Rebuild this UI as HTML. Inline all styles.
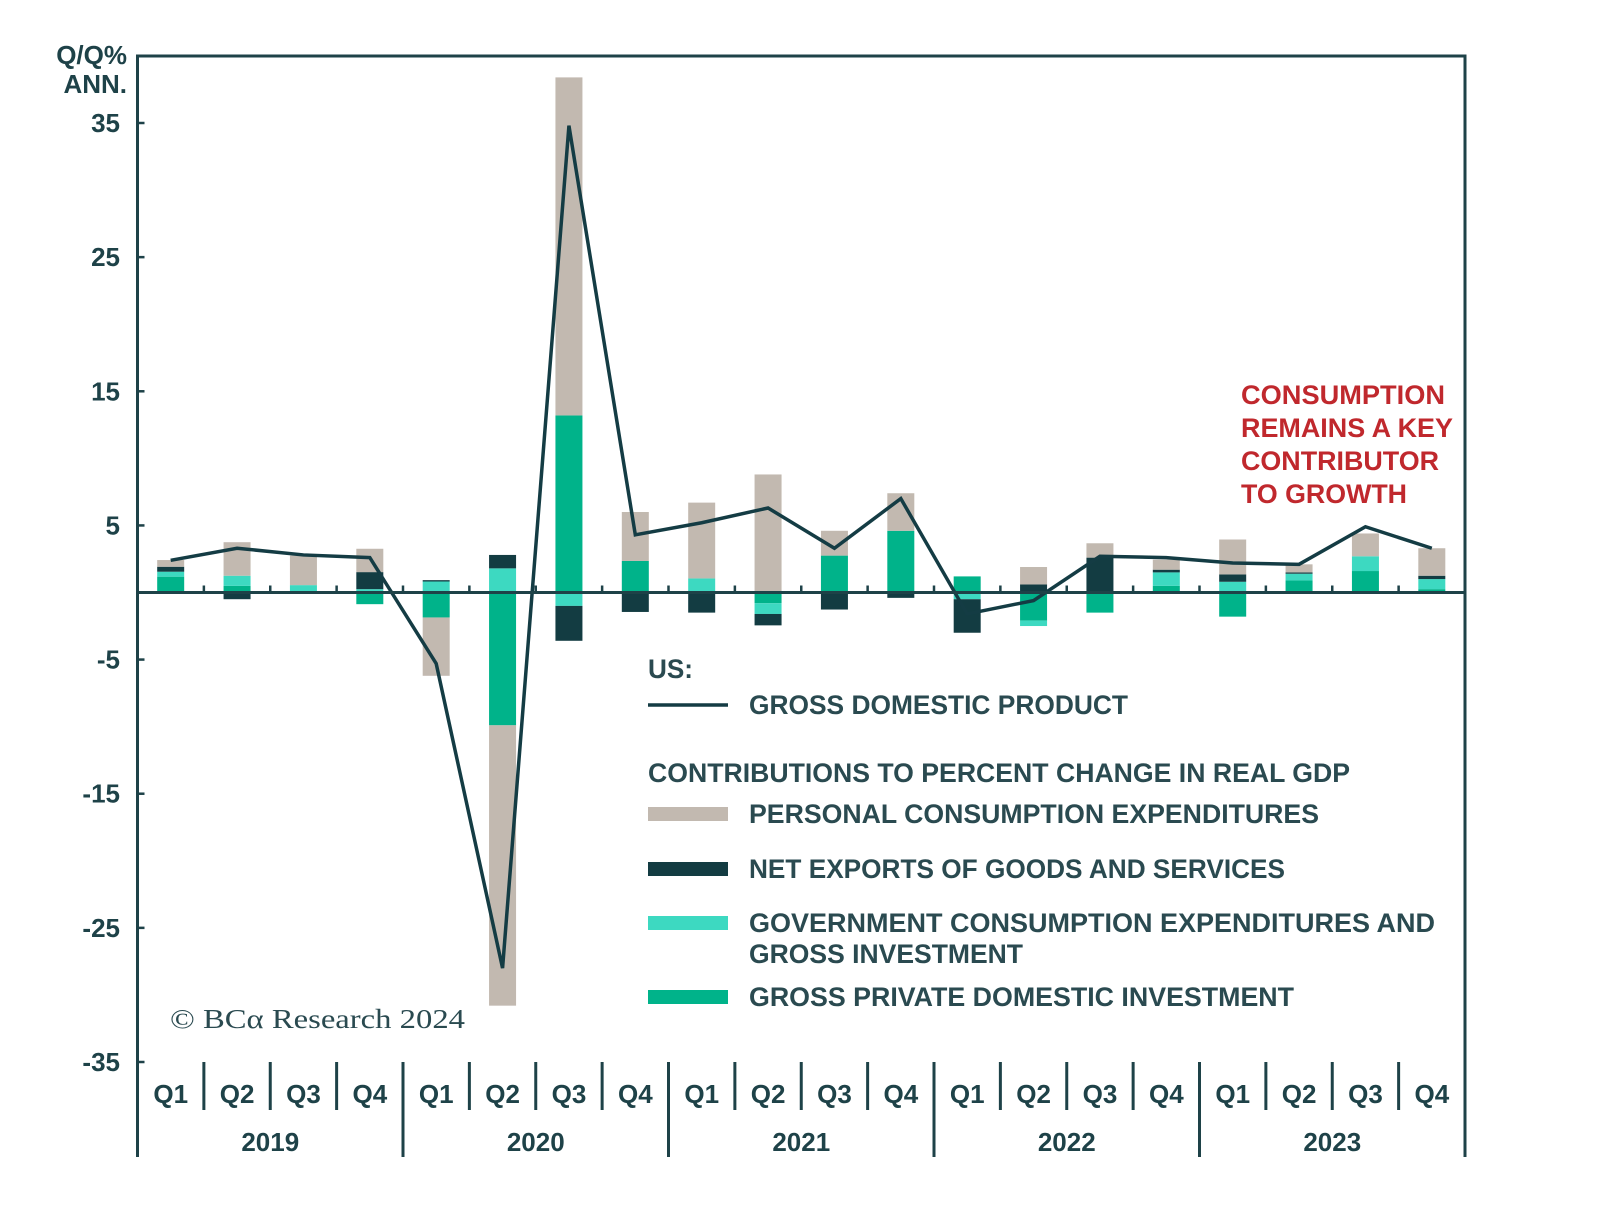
<!DOCTYPE html>
<html><head><meta charset="utf-8"><style>
html,body{margin:0;padding:0;background:#fff}
svg{display:block}
text{font-family:"Liberation Sans",sans-serif;font-weight:bold}
</style></head><body>
<svg id="chart" width="1600" height="1218" viewBox="0 0 1600 1218">
<g id="grid"></g>
<g id="bars"></g>
<g id="line"></g>
<g id="axes"></g>
<g fill="#2a4a50" font-size="27" transform="translate(-6,-6)">
<text x="654" y="684" textLength="45" lengthAdjust="spacingAndGlyphs">US:</text>
<line x1="654" y1="711" x2="734" y2="711" stroke="#143c44" stroke-width="3.5"/>
<text x="755" y="720" textLength="379" lengthAdjust="spacingAndGlyphs">GROSS DOMESTIC PRODUCT</text>
<text x="654" y="788" textLength="702" lengthAdjust="spacingAndGlyphs">CONTRIBUTIONS TO PERCENT CHANGE IN REAL GDP</text>
<rect x="654" y="813" width="80" height="14" fill="#c2b9b0"/>
<text x="755" y="829" textLength="570" lengthAdjust="spacingAndGlyphs">PERSONAL CONSUMPTION EXPENDITURES</text>
<rect x="654" y="868" width="80" height="14" fill="#133c42"/>
<text x="755" y="884" textLength="536" lengthAdjust="spacingAndGlyphs">NET EXPORTS OF GOODS AND SERVICES</text>
<rect x="654" y="922" width="80" height="14" fill="#3dd9c1"/>
<text x="755" y="938" textLength="686" lengthAdjust="spacingAndGlyphs">GOVERNMENT CONSUMPTION EXPENDITURES AND</text>
<text x="755" y="969" textLength="274" lengthAdjust="spacingAndGlyphs">GROSS INVESTMENT</text>
<rect x="654" y="996" width="80" height="14" fill="#00b38a"/>
<text x="755" y="1012" textLength="545" lengthAdjust="spacingAndGlyphs">GROSS PRIVATE DOMESTIC INVESTMENT</text>
</g>
<g fill="#c0282d" font-size="27" transform="translate(-12,-5)">
<text x="1253" y="409" textLength="204" lengthAdjust="spacingAndGlyphs">CONSUMPTION</text>
<text x="1253" y="442" textLength="212" lengthAdjust="spacingAndGlyphs">REMAINS A KEY</text>
<text x="1253" y="475" textLength="198" lengthAdjust="spacingAndGlyphs">CONTRIBUTOR</text>
<text x="1253" y="508" textLength="166" lengthAdjust="spacingAndGlyphs">TO GROWTH</text>
</g>
<text x="170" y="1028" font-size="27" fill="#2a4a50" style="font-family:'Liberation Serif',serif;font-weight:normal" textLength="295" lengthAdjust="spacingAndGlyphs">© BCα Research 2024</text>
</svg>
<script>
const categories=["Q1","Q2","Q3","Q4","Q1","Q2","Q3","Q4","Q1","Q2","Q3","Q4","Q1","Q2","Q3","Q4","Q1","Q2","Q3","Q4"];
const years=["2019","2020","2021","2022","2023"];
const pce=[0.5,2.5,2.2,1.74,-4.35,-20.9,25.2,3.65,5.65,8.8,1.85,2.8,0,1.3,1.07,0.75,2.6,0.6,1.7,2.05];
const netExports=[0.37,-0.5,0,1.27,0.1,1.0,-2.6,-1.45,-1.5,-0.85,-1.27,-0.4,-2.5,0.6,2.6,0.2,0.55,0.1,0,0.25];
const government=[0.37,0.75,0.45,0.25,0.82,1.8,-1.0,0,1.05,-0.8,0,0,-0.5,-0.4,0,1.0,0.8,0.5,1.1,0.75];
const investment=[1.18,0.5,0.1,-0.87,-1.86,-9.9,13.2,2.35,0,-0.8,2.75,4.6,1.2,-2.1,-1.5,0.5,-1.8,0.9,1.6,0.25];
const gdp=[2.4,3.3,2.8,2.6,-5.3,-28.0,34.8,4.3,5.2,6.3,3.3,7.0,-1.6,-0.6,2.7,2.6,2.2,2.1,4.9,3.3];
const yTicks=[35,25,15,5,-5,-15,-25,-35];

const NS="http://www.w3.org/2000/svg";
const L=137.5,R=1465,T=56,B=1062,YMAX=35,YMIN=-35;
const step=(R-L)/categories.length;
function y(v){return T+67+(YMAX-v)/(YMAX-YMIN)*(B-T-67);}
function xc(i){return L+step*(i+0.5);}
function mk(tag,attrs,parent){const e=document.createElementNS(NS,tag);for(const k in attrs)e.setAttribute(k,attrs[k]);parent.appendChild(e);return e;}
const bars=document.getElementById('bars'),axes=document.getElementById('axes'),lineG=document.getElementById('line');
const series=[[investment,'#00b38a','investment'],[government,'#3dd9c1','government'],[netExports,'#133c42','net-exports'],[pce,'#c2b9b0','pce']];
const bw=27;
for(let i=0;i<categories.length;i++){
  let pos=0,neg=0;
  for(const [arr,col,nm] of series){
    const v=arr[i]; if(!v)continue;
    let a,b;
    if(v>0){a=pos;b=pos+v;pos=b;}else{a=neg;b=neg+v;neg=b;}
    const r=mk('rect',{x:xc(i)-bw/2,y:Math.min(y(a),y(b)),width:bw,height:Math.abs(y(a)-y(b)),fill:col},bars);
    
    
  }
}
const fr=mk('path',{d:`M${L},${B} V${T} H${R} V${B}`,fill:'none',stroke:'#1e4248','stroke-width':3},axes);


const z=mk('line',{x1:L,x2:R,y1:y(0),y2:y(0),stroke:'#1e4248','stroke-width':3},axes);


for(let k=1;k<categories.length;k++){
  const t=mk('line',{x1:L+k*step,x2:L+k*step,y1:y(0),y2:y(0)-7,stroke:'#1e4248','stroke-width':2.5},axes);
  
  
}
for(const v of yTicks){
  const t=mk('line',{x1:L,x2:L+7,y1:y(v),y2:y(v),stroke:'#1e4248','stroke-width':2.5},axes);
  
  
  const tx=mk('text',{x:120,y:y(v)+9,'text-anchor':'end','font-size':26,fill:'#1e4248'},axes);
  tx.textContent=v;
  
  
}
const u1=mk('text',{x:127,y:64,'text-anchor':'end','font-size':26,fill:'#1e4248'},axes);u1.textContent='Q/Q%';


const u2=mk('text',{x:127,y:93,'text-anchor':'end','font-size':26,fill:'#1e4248'},axes);u2.textContent='ANN.';


for(let i=0;i<categories.length;i++){
  const t=mk('text',{x:xc(i),y:1103,'text-anchor':'middle','font-size':26,fill:'#1e4248'},axes);
  t.textContent=categories[i];
  
  
}
for(let k=0;k<=categories.length;k++){
  const yr=k%4===0;
  const d=mk('line',{x1:L+k*step,x2:L+k*step,y1:B,y2:yr?1157:1110,stroke:'#1e4248','stroke-width':3},axes);
  
  
}
years.forEach((yv,j)=>{
  const t=mk('text',{x:L+(j*4+2)*step,y:1151,'text-anchor':'middle','font-size':26,fill:'#1e4248'},axes);
  t.textContent=yv;
  
  
});
const pts=gdp.map((v,i)=>xc(i)+','+y(v)).join(' ');
const pl=mk('polyline',{points:pts,fill:'none',stroke:'#143c44','stroke-width':3.5,'stroke-linejoin':'miter'},lineG);


</script>
</body></html>
